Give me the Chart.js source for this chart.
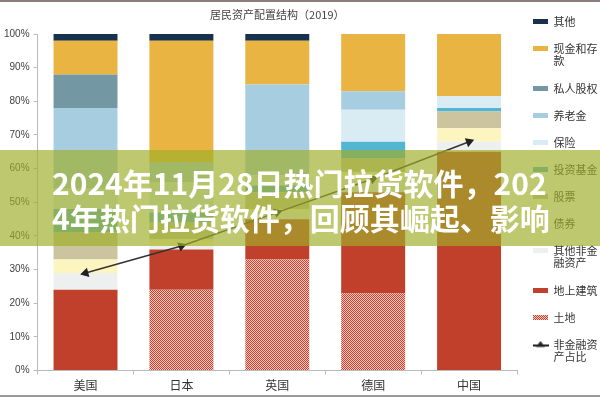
<!DOCTYPE html>
<html>
<head>
<meta charset="utf-8">
<script src="https://cdn.jsdelivr.net/npm/chart.js@4.4.1/dist/chart.umd.min.js"></script>
<style>
  html, body { margin:0; padding:0; background:#fff; }
  .wrap { position:relative; width:600px; height:397px; overflow:hidden; }
  .borde-top { position:absolute; left:0; top:0; width:600px; height:2px; background:#8e7f7e; }
  .borde-bottom { position:absolute; left:0; top:395px; width:600px; height:2px; background:#9a9a9a; }
  .banner { position:absolute; left:0; top:150px; width:600px; height:96px; background:rgba(159,174,42,0.68); }
  .banner p { margin:0; padding:15px 0 0 52px; color:#fff; font:bold 30px/35px "Noto Sans CJK SC"; white-space:nowrap; }
</style>
</head>
<body>
<div class="wrap">
  <canvas id="grafica"></canvas>
  <div class="banner"><p>2024年11月28日热门拉货软件，202<br>4年热门拉货软件，回顾其崛起、影响</p></div>
  <div class="borde-top"></div>
  <div class="borde-bottom"></div>
</div>
<script>
// Categorias del eje X
const paises = ["美国", "日本", "英国", "德国", "中国"];
const ticksY = [0, 10, 20, 30, 40, 50, 60, 70, 80, 90, 100];

// Series apiladas, de abajo hacia arriba (%)
const tierra = [0, 24, 33, 23, 0];
const edificios = [24, 12, 12, 30, 65];
const otrosNoFin = [5, 1, 2, 4, 3];
const bonos = [4, 2, 1, 2, 4];
const acciones = [8, 5, 5, 4, 5];
const fondos = [7, 3, 2, 5, 1];
const seguros = [6, 9, 3, 9.5, 3.5];
const pensiones = [24, 6, 27, 5.5, 0];
const capitalPrivado = [10, 0, 0, 0, 0];
const efectivo = [10, 36, 13, 17, 18.5];
const otros = [2, 2, 2, 0, 0];
// Linea: peso de los activos no financieros
const pesoNoFin = [29, 37, 47, 57, 68];

const $grafica = document.querySelector("#grafica");
const ctx = $grafica.getContext("2d");

// patron punteado para "土地"
const tile = document.createElement("canvas");
tile.width = 2; tile.height = 2;
const t = tile.getContext("2d");
t.fillStyle = "#f4c9bf"; t.fillRect(0, 0, 2, 2);
t.fillStyle = "#c9412f"; t.fillRect(0, 0, 1, 1); t.fillRect(1, 1, 1, 1);
const patronTierra = ctx.createPattern(tile, "repeat");

// icono de la leyenda para la linea
const icono = document.createElement("canvas");
icono.width = 16; icono.height = 8;
const ic = icono.getContext("2d");
ic.strokeStyle = "#222"; ic.lineWidth = 2;
ic.beginPath(); ic.moveTo(0, 5); ic.lineTo(16, 5); ic.stroke();
ic.fillStyle = "#222";
ic.beginPath(); ic.moveTo(8, 0.5); ic.lineTo(12.5, 6.5); ic.lineTo(3.5, 6.5); ic.closePath(); ic.fill();

const textosLeyenda = {
  "现金和存款": ["现金和存", "款"],
  "其他非金融资产": ["其他非金", "融资产"],
  "非金融资产占比": ["非金融资", "产占比"]
};

const barra = (label, data, color) => ({
  type: "bar",
  label: label,
  data: data,
  backgroundColor: color,
  borderWidth: 0,
  order: 1,
  barPercentage: 0.667,
  categoryPercentage: 1
});

const datasets = [
  {
    type: "line",
    label: "非金融资产占比",
    data: pesoNoFin,
    borderColor: "#333",
    borderWidth: 1.5,
    pointStyle: "triangle",
    pointRadius: 4,
    pointBackgroundColor: "#222",
    pointBorderColor: "#222",
    pointRotation: [255, 70, 70, 70, 70],
    stack: "linea",
    order: 0
  },
  barra("土地", tierra, patronTierra),
  barra("地上建筑", edificios, "#c0402c"),
  barra("其他非金融资产", otrosNoFin, "#eef0ef"),
  barra("债券", bonos, "#fdf5c0"),
  barra("股票", acciones, "#cbc49f"),
  barra("投资基金", fondos, "#52b5d1"),
  barra("保险", seguros, "#d9ecf3"),
  barra("养老金", pensiones, "#a6cde0"),
  barra("私人股权", capitalPrivado, "#7398a3"),
  barra("现金和存款", efectivo, "#e9b441"),
  barra("其他", otros, "#17324a")
];

new Chart($grafica, {
  data: { labels: paises, datasets: datasets },
  options: {
    responsive: true,
    maintainAspectRatio: false,
    animation: false,
    layout: { padding: { left: 0, right: 0, top: 0, bottom: 0 } },
    plugins: {
      tooltip: { enabled: false },
      title: {
        display: true,
        text: "居民资产配置结构（2019）",
        fullSize: false,
        color: "#444",
        font: { family: "Noto Sans CJK SC", size: 11, weight: "normal" },
        padding: { top: 8, bottom: 12.8 }
      },
      legend: {
        position: "right",
        align: "start",
        maxWidth: 83,
        labels: {
          usePointStyle: true,
          pointStyleWidth: 15,
          boxWidth: 15,
          boxHeight: 5,
          padding: 16,
          color: "#333",
          font: { family: "Noto Sans CJK SC", size: 11, lineHeight: 12 / 11 },
          generateLabels(chart) {
            const base = Chart.defaults.plugins.legend.labels.generateLabels(chart);
            const barras = base.filter(i => i.datasetIndex > 0).sort((a, b) => b.datasetIndex - a.datasetIndex);
            const linea = base.filter(i => i.datasetIndex === 0);
            return barras.concat(linea).map(item => {
              const lbl = chart.data.datasets[item.datasetIndex].label;
              item.text = textosLeyenda[lbl] || lbl;
              if (item.datasetIndex === 0) {
                item.pointStyle = icono;
              } else {
                item.pointStyle = "rect";
                item.lineWidth = 0;
                item.strokeStyle = "rgba(0,0,0,0)";
              }
              item.rotation = 0;
              return item;
            });
          }
        }
      }
    },
    scales: {
      x: {
        stacked: true,
        grid: { drawOnChartArea: false, drawTicks: true, tickLength: 4, color: "#bbb" },
        border: { display: true, color: "#bbb" },
        ticks: { color: "#333", padding: 4, font: { family: "Noto Sans CJK SC", size: 12 } }
      },
      y: {
        stacked: true,
        min: 0,
        max: 100,
        afterBuildTicks(axis) { axis.ticks = ticksY.map(v => ({ value: v })); },
        grid: { drawOnChartArea: false, drawTicks: true, tickLength: 4, color: "#bbb" },
        border: { display: true, color: "#bbb" },
        ticks: {
          color: "#404040",
          padding: 4,
          font: { family: "Liberation Sans", size: 10 },
          callback: v => v + "%"
        }
      }
    }
  }
});
</script>
</body>
</html>
